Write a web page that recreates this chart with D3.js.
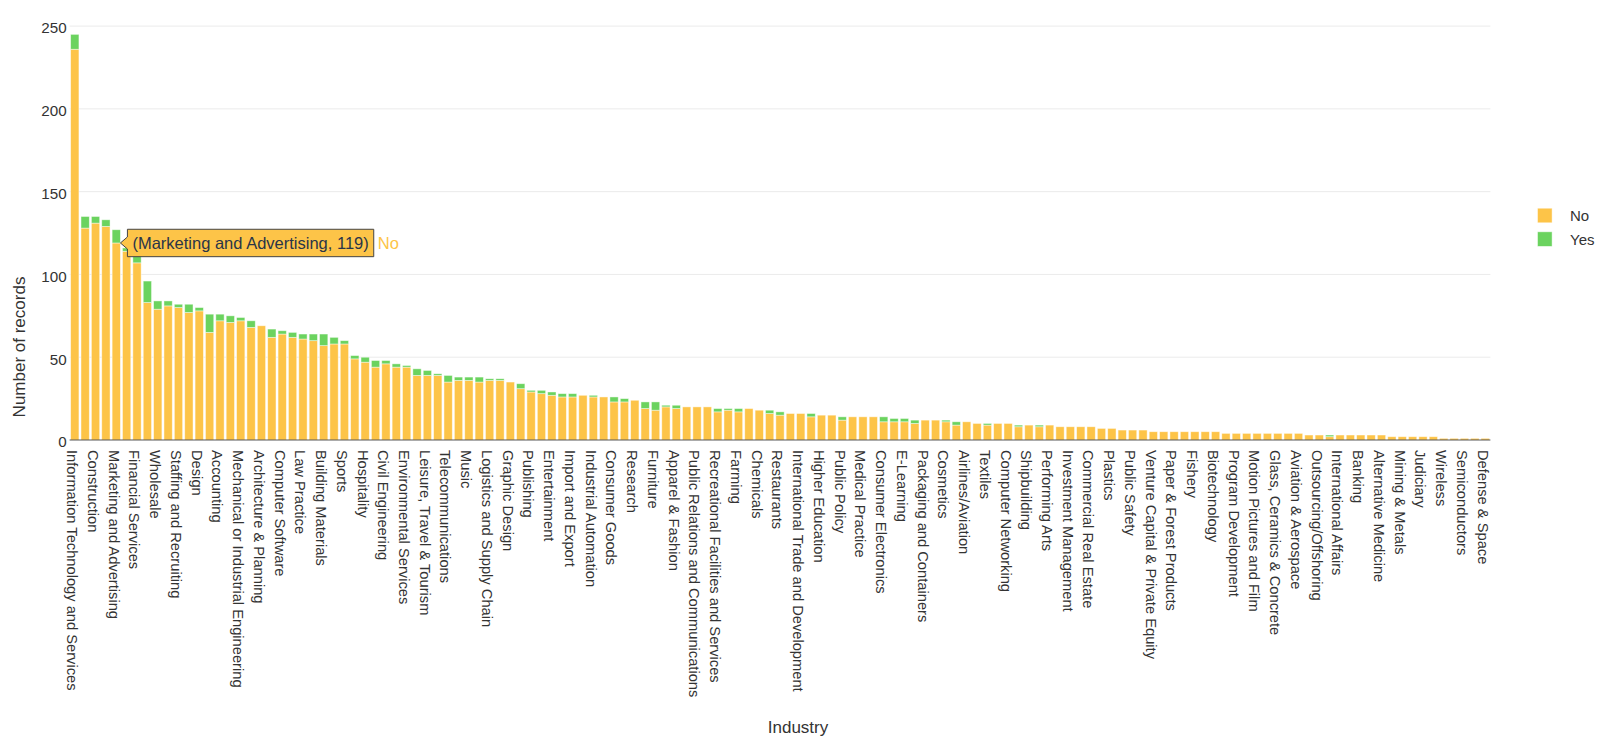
<!DOCTYPE html>
<html>
<head>
<meta charset="utf-8">
<script src="https://cdn.jsdelivr.net/npm/d3@7"></script>
<style>
  html, body { margin: 0; padding: 0; background: #fff; }
  svg { display: block; font-family: "Liberation Sans", Arial, Helvetica, sans-serif; }
</style>
</head>
<body>
<svg id="chart" width="1600" height="743"></svg>
<script>
const categories = [
  "Information Technology and Services","Real Estate","Construction","Retail","Marketing and Advertising",
  "Internet","Financial Services","Hospital & Health Care","Wholesale","Education Management",
  "Staffing and Recruiting","Oil & Energy","Design","Automotive","Accounting",
  "Food & Beverages","Mechanical or Industrial Engineering","Management Consulting","Architecture & Planning","Insurance",
  "Computer Software","Human Resources","Law Practice","Health, Wellness and Fitness","Building Materials",
  "Electrical/Electronic Manufacturing","Sports","Events Services","Hospitality","Machinery",
  "Civil Engineering","Photography","Environmental Services","Printing","Leisure, Travel & Tourism",
  "Nonprofit Organization Management","Telecommunications","Transportation/Trucking/Railroad","Music","Renewables & Environment",
  "Logistics and Supply Chain","Government Administration","Graphic Design","Media Production","Publishing",
  "Legal Services","Entertainment","Primary/Secondary Education","Import and Export","Market Research",
  "Industrial Automation","Pharmaceuticals","Consumer Goods","Fine Art","Research",
  "Food Production","Furniture","Utilities","Apparel & Fashion","Writing and Editing",
  "Public Relations and Communications","Security and Investigations","Recreational Facilities and Services","Sporting Goods","Farming",
  "Broadcast Media","Chemicals","Translation and Localization","Restaurants","Luxury Goods & Jewelry",
  "International Trade and Development","Individual & Family Services","Higher Education","Mental Health Care","Public Policy",
  "Maritime","Medical Practice","Arts and Crafts","Consumer Electronics","Medical Devices",
  "E-Learning","Online Media","Packaging and Containers","Civic & Social Organization","Cosmetics",
  "Computer Games","Airlines/Aviation","Wine and Spirits","Textiles","Professional Training & Coaching",
  "Computer Networking","Warehousing","Shipbuilding","Package/Freight Delivery","Performing Arts",
  "Philanthropy","Investment Management","Newspapers","Commercial Real Estate","Religious Institutions",
  "Plastics","Information Services","Public Safety","Gambling & Casinos","Venture Capital & Private Equity",
  "Animation","Paper & Forest Products","Think Tanks","Fishery","Government Relations",
  "Biotechnology","Dairy","Program Development","Veterinary","Motion Pictures and Film",
  "Museums and Institutions","Glass, Ceramics & Concrete","Fund-Raising","Aviation & Aerospace","Libraries",
  "Outsourcing/Offshoring","Capital Markets","International Affairs","Ranching","Banking",
  "Tobacco","Alternative Medicine","Computer Hardware","Mining & Metals","Computer & Network Security",
  "Judiciary","Supermarkets","Wireless","Consumer Services","Semiconductors",
  "Business Supplies and Equipment","Defense & Space"
];

const noValues = [
  236,128,131,129,119,114,107,83,79,81,
  80,77,78,65,72,71,72,68,69,62,
  64,62,61,60,57,58,58,49,47,44,
  46,44,44,39,39,39,35,36,36,35,
  36,36,35,31,29,28,27,26,26,27,
  26,26,23,23,24,19,18,20,19,20,
  20,20,17,18,17,19,18,16,15,16,
  16,14,15,15,12,14,14,14,11,11,
  11,10,12,12,11,9,11,10,9,10,
  10,8,9,8,9,8,8,8,8,7,
  7,6,6,6,5,5,5,5,5,5,
  5,4,4,4,4,4,4,4,4,3,
  3,2,3,3,3,3,3,2,2,2,
  2,2,1,1,1,1,1
];

const yesValues = [
  9,7,4,4,8,2,5,13,5,3,
  2,5,2,11,4,4,2,4,0,5,
  2,3,3,4,7,4,2,2,3,4,
  2,2,1,4,3,1,4,2,2,3,
  1,1,0,3,1,2,2,2,2,0,
  1,0,3,2,0,4,5,1,2,0,
  0,0,2,1,2,0,0,2,2,0,
  0,2,0,0,2,0,0,0,3,2,
  2,2,0,0,1,2,0,0,1,0,
  0,1,0,1,0,0,0,0,0,0,
  0,0,0,0,0,0,0,0,0,0,
  0,0,0,0,0,0,0,0,0,0,
  0,1,0,0,0,0,0,0,0,0,
  0,0,0,0,0,0,0
];

const seriesNames = ["No", "Yes"];
const yTicks = [0, 50, 100, 150, 200, 250];
const yMax = 257.9;
const xTitle = "Industry";
const yTitle = "Number of records";
const hoverCategory = "Marketing and Advertising";
const hoverSeries = "No";

const colors = { No: "#fdc448", Yes: "#6bd35f" };
const textColor = "#333";

const svg = d3.select("#chart");
const plot = { left: 69.6, right: 1490.4, top: 13, bottom: 440 };

const x = d3.scaleBand().domain(categories)
  .range([plot.left, plot.right]).paddingInner(0.2).paddingOuter(0.1);
const y = d3.scaleLinear().domain([0, yMax]).range([plot.bottom, plot.top]);

const rows = categories.map((c, i) => ({ category: c, No: noValues[i], Yes: yesValues[i] }));
const stacked = d3.stack().keys(seriesNames)(rows);

// gridlines
svg.append("g").selectAll("line").data(yTicks.filter(t => t > 0)).join("line")
  .attr("x1", plot.left).attr("x2", plot.right)
  .attr("y1", d => y(d)).attr("y2", d => y(d))
  .attr("stroke", "#ebebeb").attr("stroke-width", 1);

// bars
svg.append("g").selectAll("g").data(stacked).join("g")
  .attr("fill", d => colors[d.key])
  .selectAll("rect").data(d => d).join("rect")
  .attr("x", d => x(d.data.category))
  .attr("width", x.bandwidth())
  .attr("y", d => y(d[1]))
  .attr("height", d => Math.max(0, y(d[0]) - y(d[1])))
  .attr("stroke", "rgba(255,255,255,0.55)")
  .attr("stroke-width", 0.8);

// zero line
svg.append("line")
  .attr("x1", plot.left).attr("x2", plot.right)
  .attr("y1", y(0)).attr("y2", y(0))
  .attr("stroke", "#222").attr("stroke-opacity", 0.75).attr("stroke-width", 1.2);

// y axis
const yAxis = d3.axisLeft(y).tickValues(yTicks).tickSize(0).tickPadding(0);
const yg = svg.append("g").attr("transform", `translate(${plot.left - 3},0)`).call(yAxis);
yg.select(".domain").remove();
yg.selectAll("text")
  .attr("font-size", "15.2px")
  .attr("font-family", "Liberation Sans, Arial, sans-serif")
  .attr("fill", textColor)
  .attr("dy", "0.45em");

// x axis
const shownTicks = categories.filter((d, i) => i % 2 === 0);
const xAxis = d3.axisBottom(x).tickValues(shownTicks).tickSize(0).tickPadding(0);
const xg = svg.append("g").attr("transform", `translate(0,${plot.bottom})`).call(xAxis);
xg.select(".domain").remove();
xg.selectAll(".tick text")
  .attr("font-size", "14.7px")
  .attr("font-family", "Liberation Sans, Arial, sans-serif")
  .attr("fill", textColor)
  .attr("text-anchor", "start")
  .attr("y", 0).attr("dy", "0.35em")
  .attr("transform", "translate(-2.5,10) rotate(90)");

// axis titles
svg.append("text")
  .attr("transform", `translate(25,347) rotate(-90)`)
  .attr("text-anchor", "middle")
  .attr("font-size", "17px")
  .attr("fill", textColor)
  .text(yTitle);

svg.append("text")
  .attr("x", 798).attr("y", 727)
  .attr("text-anchor", "middle")
  .attr("dominant-baseline", "central")
  .attr("font-size", "17px")
  .attr("fill", textColor)
  .text(xTitle);

// legend
const legend = svg.append("g");
seriesNames.forEach((name, i) => {
  const cy = 215.5 + i * 23.6;
  legend.append("rect")
    .attr("x", 1537.5).attr("y", cy - 7.3)
    .attr("width", 14.6).attr("height", 14.6)
    .attr("fill", colors[name])
    .attr("stroke", "rgba(255,255,255,0.6)").attr("stroke-width", 0.8);
  legend.append("text")
    .attr("x", 1570).attr("y", cy)
    .attr("dominant-baseline", "central")
    .attr("font-size", "15px")
    .attr("fill", textColor)
    .text(name);
});

// hover label
const hi = categories.indexOf(hoverCategory);
const hv = hoverSeries === "No" ? noValues[hi] : noValues[hi] + yesValues[hi];
const tipX = x(hoverCategory) + x.bandwidth();
const tipY = y(hv);
const hover = svg.append("g");
const hoverText = hover.append("text")
  .attr("x", tipX + 12).attr("y", tipY)
  .attr("dominant-baseline", "central")
  .attr("font-size", "16.5px")
  .attr("fill", "#2a3548")
  .text(`(${hoverCategory}, ${hv})`);
const tw = hoverText.node().getComputedTextLength();
const boxL = tipX + 7, boxR = tipX + 12 + tw + 5, half = 13.7;
hover.insert("path", "text")
  .attr("d", `M${tipX},${tipY} L${boxL},${tipY - 6} V${tipY - half} H${boxR} V${tipY + half} H${boxL} V${tipY + 6} Z`)
  .attr("fill", colors[hoverSeries])
  .attr("stroke", "#444").attr("stroke-width", 1);
hover.append("text")
  .attr("x", boxR + 4).attr("y", tipY)
  .attr("dominant-baseline", "central")
  .attr("font-size", "16.5px")
  .attr("fill", colors[hoverSeries])
  .text(hoverSeries);
</script>
</body>
</html>
